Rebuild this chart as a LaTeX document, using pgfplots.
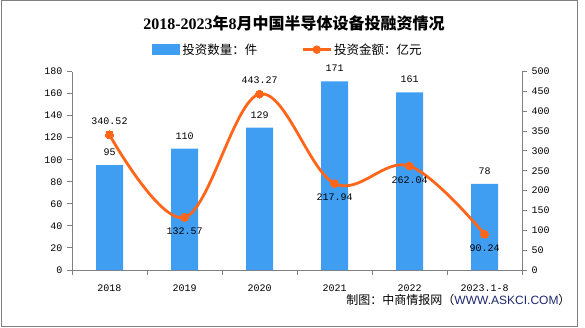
\documentclass[border=0pt]{standalone}
\usepackage{pgfplots}
\pgfplotsset{compat=1.18}
\usepackage{fontspec}
\setmainfont{Liberation Mono}
\newfontfamily\cjk{Noto Sans CJK SC}
\newfontfamily\sans{Liberation Sans}
\newfontfamily\serifb{Liberation Serif}
\definecolor{barblue}{RGB}{64,158,242}
\definecolor{lineorange}{RGB}{255,102,26}
\definecolor{axisgray}{RGB}{128,128,128}
\definecolor{navy}{RGB}{30,40,110}
\begin{document}
\begin{tikzpicture}[x=1bp,y=1bp]
\fill[white] (0,0) rectangle (585,327);
\draw[axisgray, line width=1bp] (1,1) rectangle (577,326);
\node at (294,304) {\bfseries\fontsize{16bp}{18bp}\selectfont{\serifb 2018-2023}{\cjk 年}{\serifb 8}{\cjk 月中国半导体设备投融资情况}};
\node[anchor=east] at (574,27) {\fontsize{12bp}{14bp}\selectfont\cjk 制图：中商情报网（{\sans\color{navy}WWW.ASKCI.COM}）};
\begin{axis}[at={(72bp,57bp)}, anchor=south west, scale only axis,
  width=450bp, height=198.5bp,
  xmin=-0.5, xmax=5.5, ymin=0, ymax=180,
  ytick={0,20,...,180},
  axis x line*=bottom, axis y line*=left,
  axis line style={axisgray, line width=1bp},
  xtick={0,...,5}, xticklabels={2018,2019,2020,2021,2022,2023.1-8},
  major x tick style={draw=none},
  minor xtick={-0.5,0.5,...,5.5},
  tick align=outside, major tick length=5bp, minor tick length=5bp,
  every tick/.style={axisgray, line width=1bp},
  tick label style={font=\fontsize{10bp}{12bp}\selectfont, black},
  /pgf/number format/assume math mode=true,
  xticklabel style={yshift=-6bp},
  yticklabel style={xshift=-1bp},
  legend style={draw=none, fill=none, at={(0.48,1.11)}, anchor=center,
    legend columns=2, font=\cjk\fontsize{12.5bp}{14bp}\selectfont,
    /tikz/every even column/.append style={column sep=42bp}},
]
\addplot[ybar, bar width=27bp, fill=barblue, draw=none,
  nodes near coords,
  every node near coord/.append style={font=\fontsize{10bp}{12bp}\selectfont, black, yshift=6bp},
  legend image code/.code={\fill[barblue] (0bp,-5.5bp) rectangle (28bp,5.5bp);}]
  coordinates {(0,95) (1,110) (2,129) (3,171) (4,161) (5,78)};
\addlegendentry{投资数量：件}
\addlegendimage{legend image code/.code={\draw[lineorange, line width=3bp] (0bp,0bp) -- (28bp,0bp); \fill[lineorange] (14bp,0bp) circle (4bp);}}
\addlegendentry{投资金额：亿元}
\end{axis}
\begin{axis}[at={(72bp,57bp)}, anchor=south west, scale only axis,
  width=450bp, height=198.5bp,
  xmin=-0.5, xmax=5.5, ymin=0, ymax=500,
  ytick={0,50,...,500},
  axis x line=none, axis y line*=right,
  axis line style={axisgray, line width=1bp},
  tick align=outside, major tick length=5bp,
  every tick/.style={axisgray, line width=1bp},
  tick label style={font=\fontsize{10bp}{12bp}\selectfont, black},
  /pgf/number format/assume math mode=true,
  yticklabel style={xshift=1bp},
]
\addplot[lineorange, line width=2.8bp, smooth, tension=0.6, mark=*, mark size=4bp,
  mark options={fill=lineorange, draw=lineorange, line width=0bp}]
  coordinates {(0,340.52) (1,132.57) (2,443.27) (3,217.94) (4,262.04) (5,90.24)};
\addplot[draw=none, mark=none, nodes near coords, point meta=explicit symbolic,
  every node near coord/.append style={font=\fontsize{10bp}{12bp}\selectfont, black, anchor=south, yshift=7bp}]
  coordinates {(0,340.52) [340.52] (2,443.27) [443.27]};
\addplot[draw=none, mark=none, nodes near coords, point meta=explicit symbolic,
  every node near coord/.append style={font=\fontsize{10bp}{12bp}\selectfont, black, anchor=north, yshift=-7bp}]
  coordinates {(1,132.57) [132.57] (3,217.94) [217.94] (4,262.04) [262.04] (5,90.24) [90.24]};
\end{axis}
\end{tikzpicture}
\end{document}
